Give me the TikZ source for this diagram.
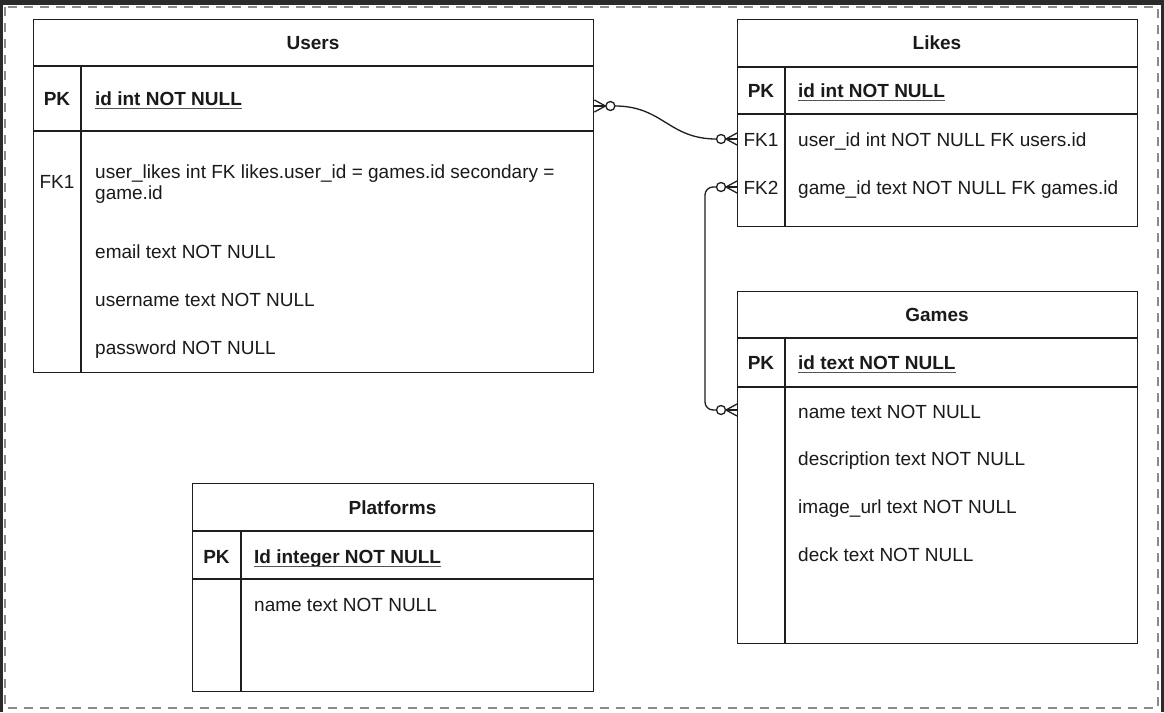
\documentclass[tikz,border=0pt]{standalone}
\usepackage{fontspec}
\setmainfont{Liberation Sans}
\usetikzlibrary{calc}
\definecolor{linec}{HTML}{1E1E1E}
\definecolor{txt}{HTML}{1A1A1A}
\definecolor{dark}{HTML}{2A2A2A}
\definecolor{bordc}{HTML}{8A8A8A}
\definecolor{ulc}{HTML}{555555}
\newcommand\Fs{\fontsize{19}{23}\selectfont}
\tikzset{
  tbox/.style={draw=linec, line width=1.4pt, fill=white, inner sep=0pt, anchor=north west},
  tline/.style={draw=linec, line width=1.4pt},
  lbl/.style={anchor=west, inner sep=0pt, text height=13.6pt, text depth=0pt, text=txt, font=\Fs},
  blbl/.style={lbl, font=\Fs\bfseries},
  ttl/.style={inner sep=0pt, text height=13.6pt, text depth=0pt, text=txt, font=\Fs\bfseries},
  fkl/.style={inner sep=0pt, text height=13.6pt, text depth=0pt, text=txt, font=\Fs},
  conn/.style={draw=linec, line width=1.3pt},
  ulin/.style={draw=ulc, line width=1.2pt},
}
\newcommand\erfoot[2]{%
  \draw[conn] ($(#1)+(0,-6)$) -- ($(#1)+(#2*11,0)$) -- ($(#1)+(0,6)$);
  \draw[conn] (#1) -- ($(#1)+(#2*11,0)$);
  \draw[conn, fill=white] ($(#1)+(#2*16,0)$) circle[radius=4.5];
}
\newcommand\pkline[1]{%
  \draw[ulin] ($(#1.south west)+(0,2.6)$) -- ($(#1.south east)+(0,2.6)$);
}
\begin{document}
\begin{tikzpicture}[x=1pt,y=-1pt]
\useasboundingbox (0,0) rectangle (1164,712);
\fill[dark] (0,0) rectangle (1164,712);
\fill[white] (3,5) rectangle (1161,712);
\draw[bordc, line width=1.4pt, dash pattern=on 9pt off 7pt] (5,7) rectangle (1158,708);

% ---------- Users ----------
\node[tbox, minimum width=560pt, minimum height=353pt] (users) at (33,19) {};
\draw[tline] (33,66) -- (593,66);
\draw[tline] (33,131) -- (593,131);
\draw[tline] (81,66) -- (81,372);
\node[ttl] (usersT) at (313,43) {Users};
\node[ttl] (usersPK) at (57,99) {PK};
\node[blbl] (usersId) at (95,99) {id int NOT NULL};
\pkline{usersId}
\node[fkl] (usersFK) at (57,182) {FK1};
\node[lbl] (usersL1) at (95,172) {user\_likes int FK likes.user\_id = games.id secondary =};
\node[lbl] (usersL2) at (95,193) {game.id};
\node[lbl] (usersEm) at (95,252) {email text NOT NULL};
\node[lbl] (usersUn) at (95,300) {username text NOT NULL};
\node[lbl] (usersPw) at (95,348) {password NOT NULL};

% ---------- Likes ----------
\node[tbox, minimum width=400pt, minimum height=207pt] (likes) at (737,19) {};
\draw[tline] (737,67) -- (1137,67);
\draw[tline] (737,114) -- (1137,114);
\draw[tline] (785,67) -- (785,226);
\node[ttl] (likesT) at (937,43) {Likes};
\node[ttl] (likesPK) at (761,91) {PK};
\node[blbl] (likesId) at (798,91) {id int NOT NULL};
\pkline{likesId}
\node[fkl] (likesFK1) at (761,140) {FK1};
\node[lbl] (likesU) at (798,140) {user\_id int NOT NULL FK users.id};
\node[fkl] (likesFK2) at (761,188) {FK2};
\node[lbl] (likesG) at (798,188) {game\_id text NOT NULL FK games.id};

% ---------- Games ----------
\node[tbox, minimum width=400pt, minimum height=352pt] (games) at (737,291) {};
\draw[tline] (737,338) -- (1137,338);
\draw[tline] (737,387) -- (1137,387);
\draw[tline] (785,338) -- (785,643);
\node[ttl] (gamesT) at (937,315) {Games};
\node[ttl] (gamesPK) at (761,363) {PK};
\node[blbl] (gamesId) at (798,363) {id text NOT NULL};
\pkline{gamesId}
\node[lbl] (gamesN) at (798,412) {name text NOT NULL};
\node[lbl] (gamesD) at (798,459) {description text NOT NULL};
\node[lbl] (gamesI) at (798,507) {image\_url text NOT NULL};
\node[lbl] (gamesK) at (798,555) {deck text NOT NULL};

% ---------- Platforms ----------
\node[tbox, minimum width=401pt, minimum height=208pt] (plat) at (192,483) {};
\draw[tline] (192,531) -- (593,531);
\draw[tline] (192,579) -- (593,579);
\draw[tline] (241,531) -- (241,691);
\node[ttl] (platT) at (392.5,508) {Platforms};
\node[ttl] (platPK) at (216.5,557) {PK};
\node[blbl] (platId) at (254,557) {Id integer NOT NULL};
\pkline{platId}
\node[lbl] (platN) at (254,605) {name text NOT NULL};

% ---------- connectors ----------
\coordinate (uR) at ($(users.north east)+(0,87)$);
\coordinate (lF1) at ($(likes.north west)+(0,120)$);
\coordinate (lF2) at ($(likes.north west)+(0,168)$);
\coordinate (gN) at ($(games.north west)+(0,119)$);

\draw[conn] ($(uR)+(20.5,0)$) .. controls +(48,0) and +(-48,0) .. ($(lF1)+(-20.5,0)$);
\draw[conn, rounded corners=8pt] ($(lF2)+(-20.5,0)$) -- ($(lF2)+(-32,0)$) -- ($(gN)+(-32,0)$) -- ($(gN)+(-20.5,0)$);

\erfoot{uR}{1}
\erfoot{lF1}{-1}
\erfoot{lF2}{-1}
\erfoot{gN}{-1}
\end{tikzpicture}
\end{document}
